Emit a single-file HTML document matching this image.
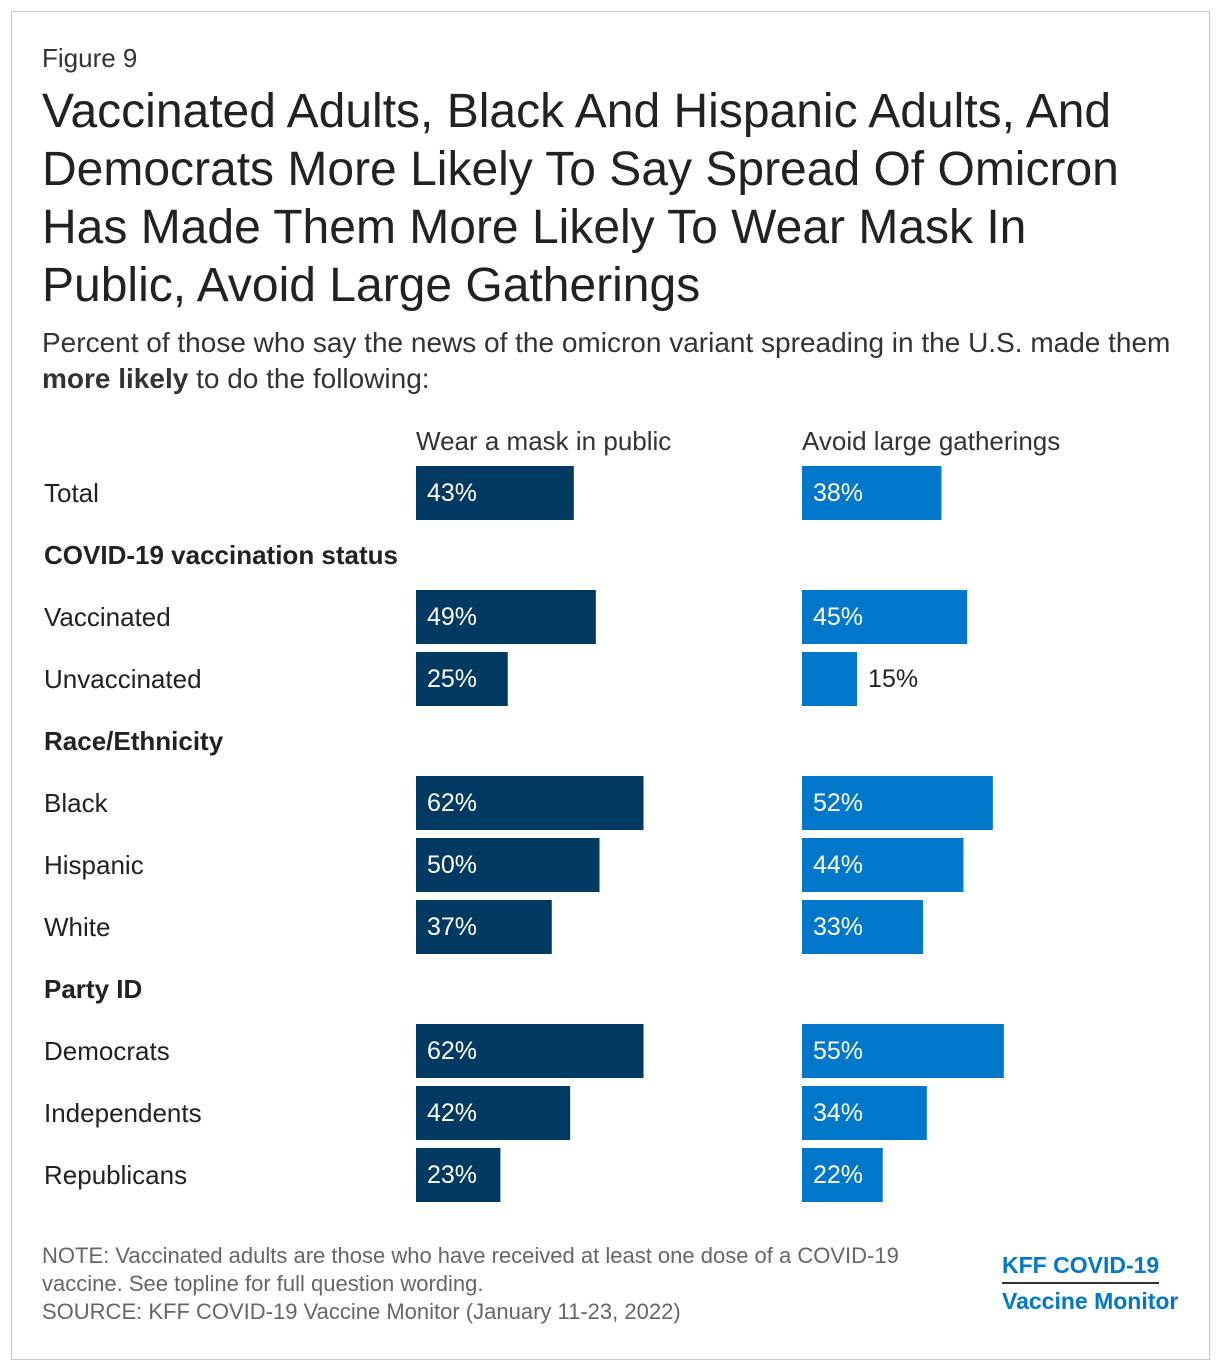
<!DOCTYPE html>
<html><head><meta charset="utf-8"><style>
body{margin:0;background:#fff;font-family:"Liberation Sans",Arial,sans-serif;}
#frame{position:absolute;left:11px;top:11px;width:1197px;height:1347px;border:1px solid #c8c8c8;}
.t{position:absolute;color:#222;white-space:nowrap;}
</style></head><body>
<div id="frame"></div>
<div class="t" style="left:42px;top:43px;font-size:26px;color:#333">Figure 9</div>
<div class="t" style="left:42px;top:83px;font-size:48px;line-height:58px;color:#222">Vaccinated Adults, Black And Hispanic Adults, And<br>Democrats More Likely To Say Spread Of Omicron<br>Has Made Them More Likely To Wear Mask In<br>Public, Avoid Large Gatherings</div>
<div class="t" style="left:42px;top:325px;font-size:28px;line-height:36px;color:#333">Percent of those who say the news of the omicron variant spreading in the U.S. made them<br><b>more likely</b> to do the following:</div>
<svg id="chart" width="1220" height="1370" style="position:absolute;left:0;top:0"></svg>
<div class="t" style="left:42px;top:1242px;font-size:22px;line-height:28px;color:#666">NOTE: Vaccinated adults are those who have received at least one dose of a COVID-19<br>vaccine. See topline for full question wording.<br>SOURCE: KFF COVID-19 Vaccine Monitor (January 11-23, 2022)</div>
<div class="t" style="left:1002px;top:1248px;font-size:23px;font-weight:bold;color:#0077c8;line-height:34px">
<div style="border-bottom:2px solid #333;display:inline-block">KFF COVID-19</div><br><span>Vaccine Monitor</span></div>
<script>
const categories=["Total","HDR:COVID-19 vaccination status","Vaccinated","Unvaccinated","HDR:Race/Ethnicity","Black","Hispanic","White","HDR:Party ID","Democrats","Independents","Republicans"];
const maskValues=[43,null,49,25,null,62,50,37,null,62,42,23];
const avoidValues=[38,null,45,15,null,52,44,33,null,55,34,22];
const seriesNames=["Wear a mask in public","Avoid large gatherings"];
const svg=document.getElementById('chart');
const NS="http://www.w3.org/2000/svg";
const xMask=v=>v*3.67, x0Mask=416, x0Avoid=802;
const rowY=i=>493+i*62;
function txt(x,y,s,opts){const t=document.createElementNS(NS,'text');t.setAttribute('x',x);t.setAttribute('y',y);t.setAttribute('font-size',opts.size||26);t.setAttribute('fill',opts.fill||'#222');if(opts.bold)t.setAttribute('font-weight','bold');t.setAttribute('dominant-baseline','central');t.setAttribute('font-family','Liberation Sans, Arial, sans-serif');t.textContent=s;svg.appendChild(t);return t;}
let h1=txt(416,441,seriesNames[0],{fill:'#333'});


let h2=txt(802,441,seriesNames[1],{fill:'#333'});


categories.forEach((c,i)=>{
  const y=rowY(i);
  if(c.startsWith("HDR:")){
    const t=txt(44,y,c.slice(4),{bold:true});
    
    
    return;
  }
  const l=txt(44,y,c,{});
  
  
  [[maskValues,x0Mask,'#003a63','mask'],[avoidValues,x0Avoid,'#0077c8','avoid']].forEach(([arr,x0,col,nm])=>{
    const v=arr[i];const w=xMask(v);
    const r=document.createElementNS(NS,'rect');
    r.setAttribute('x',x0);r.setAttribute('y',y-27);r.setAttribute('width',w);r.setAttribute('height',54);r.setAttribute('fill',col);
    
    
    svg.appendChild(r);
    const inside=w>70;
    const lab=txt(inside?x0+11:x0+w+11,y,v+'%',{fill:inside?'#fff':'#222',size:25});
    
    
  });
});
</script>
</body></html>
